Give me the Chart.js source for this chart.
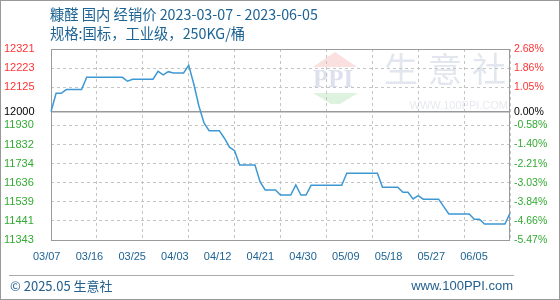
<!DOCTYPE html>
<html>
<head>
<meta charset="utf-8">
<script src="https://cdn.jsdelivr.net/npm/chart.js@4.4.1/dist/chart.umd.min.js"></script>
<style>
  html, body { margin: 0; padding: 0; background: #fff; }
  #wrap { width: 560px; height: 300px; position: relative; }
</style>
</head>
<body>
<div id="wrap"><canvas id="myChart" width="560" height="300"></canvas></div>
<script>
const titleText = '糠醛 国内 经销价 2023-03-07 - 2023-06-05';
const specText = '规格:国标，工业级，250KG/桶';

const dates = [
  '03/07','03/08','03/09','03/10','03/11','03/12','03/13','03/14','03/15','03/16',
  '03/17','03/18','03/19','03/20','03/21','03/22','03/23','03/24','03/25','03/26',
  '03/27','03/28','03/29','03/30','03/31',
  '04/01','04/02','04/03','04/04','04/05','04/06','04/07','04/08','04/09','04/10',
  '04/11','04/12','04/13','04/14','04/15','04/16','04/17','04/18','04/19','04/20',
  '04/21','04/22','04/23','04/24','04/25','04/26','04/27','04/28','04/29','04/30',
  '05/01','05/02','05/03','05/04','05/05','05/06','05/07','05/08','05/09','05/10',
  '05/11','05/12','05/13','05/14','05/15','05/16','05/17','05/18','05/19','05/20',
  '05/21','05/22','05/23','05/24','05/25','05/26','05/27','05/28','05/29','05/30',
  '05/31',
  '06/01','06/02','06/03','06/04','06/05'
];

const prices = [
  12000, 12094, 12094, 12113, 12113, 12113, 12113, 12176, 12176, 12176,
  12176, 12176, 12176, 12176, 12176, 12156, 12166, 12166, 12166, 12166,
  12166, 12207, 12189, 12205, 12198, 12198, 12198, 12238, 12142, 12029,
  11942, 11903, 11903, 11903, 11864, 11818, 11800, 11727, 11727, 11727,
  11727, 11640, 11599, 11599, 11599, 11573, 11573, 11573, 11625, 11573,
  11573, 11623, 11623, 11623, 11623, 11623, 11623, 11623, 11685, 11685,
  11685, 11685, 11685, 11685, 11685, 11613, 11613, 11613, 11613, 11587,
  11587, 11553, 11570, 11552, 11552, 11552, 11552, 11514, 11476, 11476,
  11476, 11476, 11476, 11449, 11449, 11425, 11425, 11425, 11425, 11425,
  11480
];

const xTickLabels = ['03/07','03/16','03/25','04/03','04/12','04/21','04/30','05/09','05/18','05/27','06/05'];
const yTicks = [11343, 11441, 11539, 11636, 11734, 11832, 11930, 12000, 12125, 12223, 12321];
const yTickLabels = ['11343','11441','11539','11636','11734','11832','11930','12000','12125','12223','12321'];
const pctTickLabels = ['-5.47%','-4.66%','-3.84%','-3.03%','-2.21%','-1.40%','-0.58%','0.00%','1.05%','1.86%','2.68%'];
const basePrice = 12000;

const numFont = 'Liberation Sans, Arial, sans-serif';
const cjkFont = '"Noto Sans CJK SC", "Liberation Sans", sans-serif';
const blue = '#1d6394';
const gridDash = [3, 3];

function tickColor(ctx) {
  const v = ctx.tick ? ctx.tick.value : 0;
  if (v > basePrice) return '#ff3333';
  if (v < basePrice) return '#33aa33';
  return '#000000';
}

const decor = {
  id: 'decor',
  beforeDraw(chart) {
    const c = chart.ctx;
    c.save();
    c.fillStyle = '#fff';
    c.fillRect(0, 0, chart.width, chart.height);
    // watermark
    c.fillStyle = '#fbe0e0';
    c.beginPath(); c.moveTo(335, 52); c.lineTo(357, 67); c.lineTo(313, 67); c.closePath(); c.fill();
    c.fillStyle = '#dce1ed';
    c.font = 'bold 25px "Liberation Serif", serif';
    c.textBaseline = 'top';
    c.fillText('PPI', 313, 68);
    c.fillStyle = '#def2e0';
    c.beginPath(); c.moveTo(313, 93); c.lineTo(358, 93); c.lineTo(340, 104); c.lineTo(331, 104); c.closePath(); c.fill();
    c.fillStyle = '#e2e6ee';
    c.font = '34px ' + cjkFont;
    c.fillText('生', 384, 52);
    c.fillText('意', 428, 52);
    c.fillText('社', 472, 52);
    c.fillStyle = '#e6e9ee';
    c.font = '11px ' + numFont;
    c.textAlign = 'right';
    c.textBaseline = 'middle';
    c.fillText('WWW.100PPI.COM', 508, 106);
    c.restore();
  },
  beforeDatasetsDraw(chart) {
    const c = chart.ctx;
    const a = chart.chartArea;
    const y0 = chart.scales.y.getPixelForValue(basePrice);
    c.save();
    c.strokeStyle = '#999';
    c.lineWidth = 1.5;
    c.beginPath(); c.moveTo(a.left, y0); c.lineTo(a.right, y0); c.stroke();
    c.lineWidth = 1;
    c.strokeStyle = '#9a9a9a';
    c.strokeRect(a.left + 0.5, a.top + 0.5, a.right - a.left - 1, a.bottom - a.top);
    c.restore();
  },
  afterDraw(chart) {
    const c = chart.ctx;
    c.save();
    c.fillStyle = blue;
    c.textBaseline = 'middle';
    c.font = '14.3px ' + cjkFont;
    c.fillText(titleText, 50, 15);
    c.fillText(specText, 50, 34);
    c.strokeStyle = '#aaa';
    c.lineWidth = 1;
    c.beginPath(); c.moveTo(9, 275.5); c.lineTo(514, 275.5); c.stroke();
    c.fillStyle = '#25608f';
    c.font = '13px ' + cjkFont;
    c.fillText('© 2025.05 生意社', 10, 286);
    c.textAlign = 'right';
    c.font = '13px ' + numFont;
    c.fillText('www.100PPI.com', 513, 286);
    c.strokeStyle = '#999';
    c.strokeRect(0.5, 0.5, chart.width - 1, chart.height - 1);
    c.restore();
  }
};

new Chart(document.getElementById('myChart'), {
  type: 'line',
  data: {
    labels: dates,
    datasets: [{
      data: prices,
      borderColor: '#3d98d3',
      borderWidth: 1.5,
      pointRadius: 0,
      tension: 0,
      fill: false
    }]
  },
  options: {
    responsive: false,
    animation: false,
    events: [],
    layout: { padding: { left: 4, top: 49, right: 0, bottom: 0 } },
    plugins: { legend: { display: false }, tooltip: { enabled: false } },
    scales: {
      x: {
        type: 'category',
        offset: false,
        weight: 0,
        ticks: { display: false, autoSkip: false },
        grid: {
          drawTicks: false,
          color: ctx => (ctx.index % 9 === 0 ? '#c4c4c4' : 'rgba(0,0,0,0)'),
          lineWidth: 1
        },
        border: { display: false, dash: gridDash }
      },
      xl: {
        type: 'linear',
        position: 'bottom',
        weight: 1,
        min: 0.1006,
        max: 10.843,
        afterBuildTicks: s => { s.ticks = xTickLabels.map((l, i) => ({ value: i })); },
        afterFit: s => { s.height = 60; },
        ticks: {
          autoSkip: false,
          maxRotation: 0,
          padding: 10,
          color: blue,
          font: { size: 11, family: numFont },
          callback: (v, i) => xTickLabels[i]
        },
        grid: { display: false, drawTicks: false },
        border: { display: false }
      },
      y: {
        position: 'left',
        min: 11343,
        max: 12321,
        afterBuildTicks: s => { s.ticks = yTicks.map(v => ({ value: v })); },
        afterFit: s => { s.width = 47; },
        ticks: {
          crossAlign: 'far',
          padding: 4,
          color: tickColor,
          font: { size: 11, family: numFont },
          callback: (v, i) => yTickLabels[i]
        },
        grid: {
          drawTicks: false,
          color: ctx => (ctx.tick && ctx.tick.value === basePrice ? 'rgba(0,0,0,0)' : '#c4c4c4'),
          lineWidth: 1
        },
        border: { display: false, dash: gridDash }
      },
      y2: {
        position: 'right',
        min: 11343,
        max: 12321,
        afterBuildTicks: s => { s.ticks = yTicks.map(v => ({ value: v })); },
        afterFit: s => { s.width = 50; },
        ticks: {
          padding: 4,
          color: tickColor,
          font: { size: 10.5, family: numFont },
          callback: (v, i) => pctTickLabels[i]
        },
        grid: { display: false, drawTicks: false },
        border: { display: false }
      }
    }
  },
  plugins: [decor]
});
</script>
</body>
</html>
